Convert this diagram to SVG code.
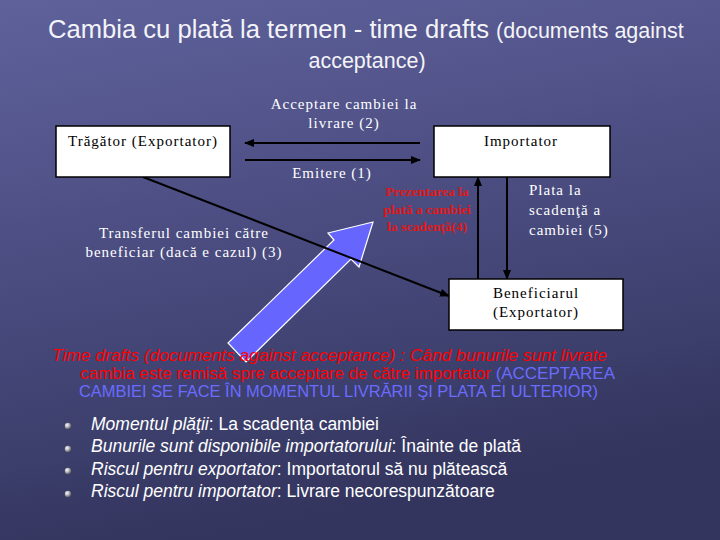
<svg xmlns="http://www.w3.org/2000/svg" width="720" height="540" viewBox="0 0 720 540">
<style>
.title{font-family:"Liberation Sans",Arial,sans-serif;fill:#f4f4f8}
.box{fill:#ffffff;stroke:#000000;stroke-width:1.5}
.boxtxt{font-family:"Liberation Serif","Times New Roman",serif;font-size:15px;fill:#000000;letter-spacing:1px;text-anchor:middle}
.wlbl{font-family:"Liberation Serif","Times New Roman",serif;font-size:15px;fill:#ffffff;letter-spacing:1px}
.rlbl{font-family:"Liberation Serif","Times New Roman",serif;font-size:13.5px;font-weight:bold;fill:#e01818;text-anchor:middle}
.conn{stroke:#000000;stroke-width:2;fill:none;marker-end:url(#ah)}
.para{font-family:"Liberation Sans",Arial,sans-serif;font-size:16.5px}
.red{fill:#ff0000}
.blue{fill:#6a6cff}
.bul{font-family:"Liberation Sans",Arial,sans-serif;font-size:17.5px;fill:#ffffff}
.it{font-style:italic}
</style>
<defs>
<linearGradient id="bg" x1="0" y1="0" x2="0.25" y2="1">
<stop offset="0" stop-color="#5f619b"/>
<stop offset="0.5" stop-color="#4a4c80"/>
<stop offset="1" stop-color="#33355e"/>
</linearGradient>
<radialGradient id="ball" cx="0.35" cy="0.35" r="0.7">
<stop offset="0" stop-color="#ffffff"/>
<stop offset="0.6" stop-color="#a0a0a8"/>
<stop offset="1" stop-color="#505058"/>
</radialGradient>
<marker id="ah" markerUnits="userSpaceOnUse" markerWidth="10" markerHeight="8" refX="9" refY="4" orient="auto">
<path d="M0,0 L10,4 L0,8 z" fill="#000000"/>
</marker>
</defs>
<rect x="0" y="0" width="720" height="540" fill="url(#bg)"/>

<g id="title">
<text class="title" x="48" y="38" font-size="25.6">Cambia cu plată la termen - time drafts <tspan font-size="21.5">(documents against</tspan></text>
<text class="title" x="367" y="68" font-size="21.5" text-anchor="middle">acceptance)</text>
</g>

<g id="blue-arrow">
<polygon points="373,222 359,267 351,259 246,362 228,343 334,240 328,233" fill="#6666ff" stroke="#ffffff" stroke-width="1.2"/>
</g>

<g id="connectors">
<line class="conn" x1="420" y1="143" x2="245" y2="143"/>
<line class="conn" x1="245" y1="160" x2="420" y2="160"/>
<line class="conn" x1="143" y1="177" x2="449" y2="296"/>
<line class="conn" x1="478" y1="279" x2="478" y2="177"/>
<line class="conn" x1="507" y1="177" x2="507" y2="279"/>
</g>

<g id="tragator">
<rect class="box" x="56" y="126" width="174" height="51"/>
<text class="boxtxt" x="143" y="146">Trăgător (Exportator)</text>
</g>
<g id="importator">
<rect class="box" x="434" y="126" width="176" height="51"/>
<text class="boxtxt" x="521" y="146">Importator</text>
</g>
<g id="beneficiar">
<rect class="box" x="449" y="279" width="174" height="51"/>
<text class="boxtxt" x="536" y="298">Beneficiarul</text>
<text class="boxtxt" x="536" y="317">(Exportator)</text>
</g>

<g id="labels">
<text class="wlbl" x="344" y="109" text-anchor="middle">Acceptare cambiei la</text>
<text class="wlbl" x="344" y="128" text-anchor="middle">livrare (2)</text>
<text class="wlbl" x="332" y="178" text-anchor="middle">Emitere (1)</text>
<text class="wlbl" x="184" y="238" text-anchor="middle">Transferul cambiei către</text>
<text class="wlbl" x="184" y="257" text-anchor="middle">beneficiar (dacă e cazul) (3)</text>
<text class="wlbl" x="529" y="195">Plata la</text>
<text class="wlbl" x="529" y="215">scadenţă a</text>
<text class="wlbl" x="529" y="235">cambiei (5)</text>
<text class="rlbl" x="427" y="196">Prezentarea la</text>
<text class="rlbl" x="427" y="214">plată a cambiei</text>
<text class="rlbl" x="427" y="231">la scadenţă(4)</text>
</g>

<g id="paragraph">
<text class="para red it" x="52" y="361" textLength="555" lengthAdjust="spacingAndGlyphs">Time drafts (documents against acceptance) : Când  bunurile sunt livrate</text>
<text class="para" x="80" y="379" textLength="535" lengthAdjust="spacingAndGlyphs"><tspan class="red">cambia este remisă spre acceptare de către importator </tspan><tspan class="blue">(ACCEPTAREA</tspan></text>
<text class="para blue" x="79" y="397" textLength="519" lengthAdjust="spacingAndGlyphs">CAMBIEI SE FACE ÎN MOMENTUL LIVRĂRII ŞI PLATA EI ULTERIOR)</text>
</g>

<g id="bullets">
<circle cx="68" cy="426" r="3.2" fill="url(#ball)"/>
<circle cx="68" cy="449" r="3.2" fill="url(#ball)"/>
<circle cx="68" cy="471" r="3.2" fill="url(#ball)"/>
<circle cx="68" cy="494" r="3.2" fill="url(#ball)"/>
<text class="bul" x="91" y="430"><tspan class="it">Momentul plăţii</tspan>: La scadenţa cambiei</text>
<text class="bul" x="91" y="452"><tspan class="it">Bunurile sunt disponibile importatorului</tspan>: Înainte de plată</text>
<text class="bul" x="91" y="475"><tspan class="it">Riscul pentru exportator</tspan>: Importatorul să nu plătească</text>
<text class="bul" x="91" y="497"><tspan class="it">Riscul pentru importator</tspan>: Livrare necorespunzătoare</text>
</g>
</svg>
